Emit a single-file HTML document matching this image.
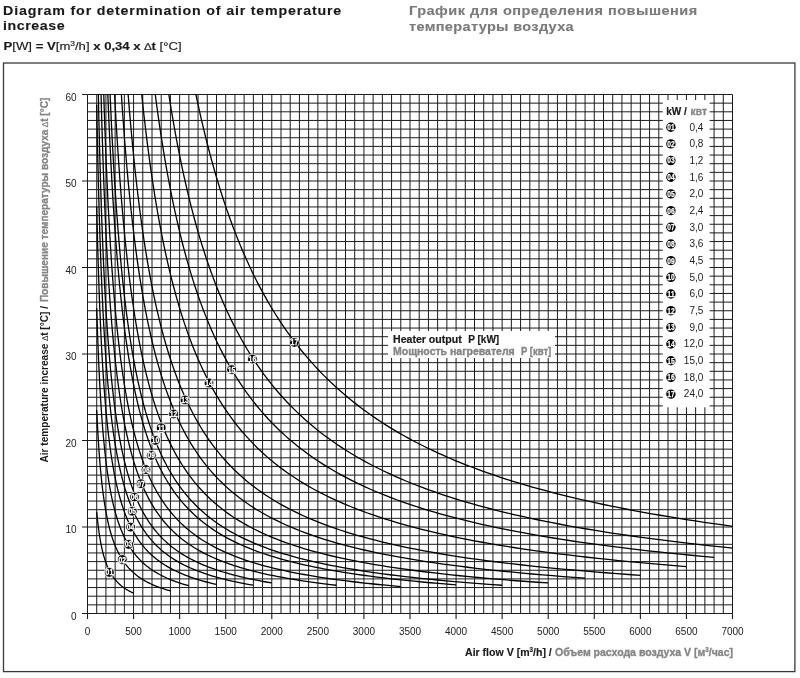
<!DOCTYPE html><html><head><meta charset="utf-8"><style>html,body{margin:0;padding:0;background:#fff;width:800px;height:678px;overflow:hidden}svg{display:block;will-change:transform}text{font-family:"Liberation Sans",sans-serif}</style></head><body>
<svg width="800" height="678" viewBox="0 0 800 678">
<rect width="800" height="678" fill="#fff"/>
<text transform="scale(1.13 1)" x="2.74" y="14.6" font-size="12.6" font-weight="bold" fill="#1a1a1a" stroke="#1a1a1a" stroke-width="0.12" textLength="299.29" lengthAdjust="spacing">Diagram for determination of air temperature</text>
<text transform="scale(1.13 1)" x="2.74" y="30.4" font-size="12.6" font-weight="bold" fill="#1a1a1a" stroke="#1a1a1a" stroke-width="0.12" textLength="54.51" lengthAdjust="spacing">increase</text>
<text transform="scale(1.1 1)" x="371.82" y="14.8" font-size="13.2" font-weight="bold" fill="#7a7a7a" stroke="#7a7a7a" stroke-width="0.12" textLength="262" lengthAdjust="spacing">График для определения повышения</text>
<text transform="scale(1.1 1)" x="371.82" y="30.6" font-size="13.2" font-weight="bold" fill="#7a7a7a" stroke="#7a7a7a" stroke-width="0.12" textLength="149.73" lengthAdjust="spacing">температуры воздуха</text>
<text x="3.6" y="49.6" font-size="11" fill="#1a1a1a" stroke="#1a1a1a" stroke-width="0.15" textLength="178" lengthAdjust="spacingAndGlyphs"><tspan font-weight="bold">P</tspan>[W] <tspan font-weight="bold">= V</tspan>[m<tspan font-size="7" dy="-4">3</tspan><tspan dy="4">/h] </tspan><tspan font-weight="bold">x 0,34 x </tspan><tspan font-size="10">∆</tspan><tspan font-weight="bold">t</tspan> [°C]</text>
<rect x="3.5" y="63" width="791.4" height="608.6" fill="none" stroke="#3a3a3a" stroke-width="1.3"/>
<path d="M87.5 94.5V613.5M96.71 94.5V613.5M105.93 94.5V613.5M115.14 94.5V613.5M124.36 94.5V613.5M133.57 94.5V613.5M142.79 94.5V613.5M152 94.5V613.5M161.21 94.5V613.5M170.43 94.5V613.5M179.64 94.5V613.5M188.86 94.5V613.5M198.07 94.5V613.5M207.29 94.5V613.5M216.5 94.5V613.5M225.71 94.5V613.5M234.93 94.5V613.5M244.14 94.5V613.5M253.36 94.5V613.5M262.57 94.5V613.5M271.79 94.5V613.5M281 94.5V613.5M290.21 94.5V613.5M299.43 94.5V613.5M308.64 94.5V613.5M317.86 94.5V613.5M327.07 94.5V613.5M336.29 94.5V613.5M345.5 94.5V613.5M354.71 94.5V613.5M363.93 94.5V613.5M373.14 94.5V613.5M382.36 94.5V613.5M391.57 94.5V613.5M400.79 94.5V613.5M410 94.5V613.5M419.21 94.5V613.5M428.43 94.5V613.5M437.64 94.5V613.5M446.86 94.5V613.5M456.07 94.5V613.5M465.29 94.5V613.5M474.5 94.5V613.5M483.71 94.5V613.5M492.93 94.5V613.5M502.14 94.5V613.5M511.36 94.5V613.5M520.57 94.5V613.5M529.79 94.5V613.5M539 94.5V613.5M548.21 94.5V613.5M557.43 94.5V613.5M566.64 94.5V613.5M575.86 94.5V613.5M585.07 94.5V613.5M594.29 94.5V613.5M603.5 94.5V613.5M612.71 94.5V613.5M621.93 94.5V613.5M631.14 94.5V613.5M640.36 94.5V613.5M649.57 94.5V613.5M658.79 94.5V613.5M668 94.5V613.5M677.21 94.5V613.5M686.43 94.5V613.5M695.64 94.5V613.5M704.86 94.5V613.5M714.07 94.5V613.5M723.29 94.5V613.5M732.5 94.5V613.5M87.5 613.5H732.5M87.5 604.85H732.5M87.5 596.2H732.5M87.5 587.55H732.5M87.5 578.9H732.5M87.5 570.25H732.5M87.5 561.6H732.5M87.5 552.95H732.5M87.5 544.3H732.5M87.5 535.65H732.5M87.5 527H732.5M87.5 518.35H732.5M87.5 509.7H732.5M87.5 501.05H732.5M87.5 492.4H732.5M87.5 483.75H732.5M87.5 475.1H732.5M87.5 466.45H732.5M87.5 457.8H732.5M87.5 449.15H732.5M87.5 440.5H732.5M87.5 431.85H732.5M87.5 423.2H732.5M87.5 414.55H732.5M87.5 405.9H732.5M87.5 397.25H732.5M87.5 388.6H732.5M87.5 379.95H732.5M87.5 371.3H732.5M87.5 362.65H732.5M87.5 354H732.5M87.5 345.35H732.5M87.5 336.7H732.5M87.5 328.05H732.5M87.5 319.4H732.5M87.5 310.75H732.5M87.5 302.1H732.5M87.5 293.45H732.5M87.5 284.8H732.5M87.5 276.15H732.5M87.5 267.5H732.5M87.5 258.85H732.5M87.5 250.2H732.5M87.5 241.55H732.5M87.5 232.9H732.5M87.5 224.25H732.5M87.5 215.6H732.5M87.5 206.95H732.5M87.5 198.3H732.5M87.5 189.65H732.5M87.5 181H732.5M87.5 172.35H732.5M87.5 163.7H732.5M87.5 155.05H732.5M87.5 146.4H732.5M87.5 137.75H732.5M87.5 129.1H732.5M87.5 120.45H732.5M87.5 111.8H732.5M87.5 103.15H732.5M87.5 94.5H732.5" stroke="#1e1a1a" stroke-width="1" fill="none"/>
<path d="M82 613.5H87.5M82 527H87.5M82 440.5H87.5M82 354H87.5M82 267.5H87.5M82 181H87.5M82 94.5H87.5M87.5 613.5V619M133.57 613.5V619M179.64 613.5V619M225.71 613.5V619M271.79 613.5V619M317.86 613.5V619M363.93 613.5V619M410 613.5V619M456.07 613.5V619M502.14 613.5V619M548.21 613.5V619M594.29 613.5V619M640.36 613.5V619M686.43 613.5V619M732.5 613.5V619" stroke="#1e1a1a" stroke-width="1.1" fill="none"/>
<text x="76.5" y="619.5" font-size="10" fill="#222" text-anchor="end">0</text>
<text x="76.5" y="533" font-size="10" fill="#222" text-anchor="end">10</text>
<text x="76.5" y="446.5" font-size="10" fill="#222" text-anchor="end">20</text>
<text x="76.5" y="360" font-size="10" fill="#222" text-anchor="end">30</text>
<text x="76.5" y="273.5" font-size="10" fill="#222" text-anchor="end">40</text>
<text x="76.5" y="187" font-size="10" fill="#222" text-anchor="end">50</text>
<text x="76.5" y="100.5" font-size="10" fill="#222" text-anchor="end">60</text>
<text x="87.5" y="635" font-size="10" fill="#222" text-anchor="middle">0</text>
<text x="133.57" y="635" font-size="10" fill="#222" text-anchor="middle">500</text>
<text x="179.64" y="635" font-size="10" fill="#222" text-anchor="middle">1000</text>
<text x="225.71" y="635" font-size="10" fill="#222" text-anchor="middle">1500</text>
<text x="271.79" y="635" font-size="10" fill="#222" text-anchor="middle">2000</text>
<text x="317.86" y="635" font-size="10" fill="#222" text-anchor="middle">2500</text>
<text x="363.93" y="635" font-size="10" fill="#222" text-anchor="middle">3000</text>
<text x="410" y="635" font-size="10" fill="#222" text-anchor="middle">3500</text>
<text x="456.07" y="635" font-size="10" fill="#222" text-anchor="middle">4000</text>
<text x="502.14" y="635" font-size="10" fill="#222" text-anchor="middle">4500</text>
<text x="548.21" y="635" font-size="10" fill="#222" text-anchor="middle">5000</text>
<text x="594.29" y="635" font-size="10" fill="#222" text-anchor="middle">5500</text>
<text x="640.36" y="635" font-size="10" fill="#222" text-anchor="middle">6000</text>
<text x="686.43" y="635" font-size="10" fill="#222" text-anchor="middle">6500</text>
<text x="732.5" y="635" font-size="10" fill="#222" text-anchor="middle">7000</text>
<path d="M96.71 511.74L96.84 513.09L96.96 514.43L97.09 515.75L97.22 517.05L97.35 518.34L97.49 519.6L97.62 520.85L97.76 522.09L97.9 523.31L98.04 524.51L98.18 525.69L98.32 526.86L98.47 528.02L98.62 529.16L98.77 530.28L98.92 531.39L99.07 532.48L99.23 533.56L99.39 534.63L99.55 535.68L99.71 536.71L99.88 537.74L100.04 538.75L100.21 539.74L100.38 540.73L100.56 541.7L100.74 542.65L100.91 543.6L101.1 544.53L101.28 545.45L101.46 546.35L101.65 547.25L101.84 548.13L102.04 549L102.23 549.86L102.43 550.71L102.63 551.54L102.84 552.37L103.05 553.18L103.26 553.99L103.47 554.78L103.68 555.56L103.9 556.33L104.12 557.1L104.35 557.85L104.58 558.59L104.81 559.32L105.04 560.04L105.28 560.75L105.52 561.46L105.76 562.15L106.01 562.83L106.26 563.51L106.51 564.18L106.77 564.83L107.03 565.48L107.29 566.12L107.56 566.75L107.83 567.37L108.1 567.99L108.38 568.6L108.66 569.19L108.95 569.78L109.24 570.37L109.53 570.94L109.83 571.51L110.13 572.07L110.44 572.62L110.75 573.16L111.06 573.7L111.38 574.23L111.7 574.76L112.03 575.27L112.36 575.78L112.7 576.28L113.04 576.78L113.38 577.27L113.73 577.75L114.08 578.23L114.44 578.7L114.81 579.16L115.18 579.62L115.55 580.07L115.93 580.51L116.31 580.95L116.7 581.39L117.09 581.82L117.49 582.24L117.9 582.65L118.31 583.07L118.73 583.47L119.15 583.87L119.57 584.27L120.01 584.65L120.45 585.04L120.89 585.42L121.34 585.79L121.8 586.16L122.26 586.53L122.73 586.89L123.21 587.24L123.69 587.59L124.18 587.93L124.67 588.28L125.18 588.61L125.68 588.94L126.2 589.27L126.72 589.59L127.25 589.91L127.79 590.23L128.33 590.54L128.88 590.84L129.44 591.14L130.01 591.44L130.58 591.74L131.16 592.03L131.75 592.31L132.35 592.59L132.96 592.87L133.57 593.15M96.71 409.97L96.88 413.66L97.06 417.29L97.23 420.85L97.41 424.34L97.6 427.78L97.78 431.15L97.97 434.45L98.17 437.7L98.37 440.89L98.57 444.02L98.77 447.1L98.98 450.12L99.19 453.08L99.41 455.99L99.63 458.85L99.85 461.66L100.08 464.41L100.31 467.12L100.55 469.77L100.79 472.38L101.03 474.94L101.28 477.45L101.54 479.92L101.8 482.35L102.06 484.73L102.33 487.06L102.61 489.36L102.89 491.61L103.17 493.82L103.46 495.99L103.75 498.12L104.05 500.22L104.36 502.27L104.67 504.29L104.99 506.27L105.31 508.22L105.64 510.13L105.98 512L106.32 513.85L106.67 515.65L107.02 517.43L107.38 519.17L107.75 520.88L108.12 522.56L108.5 524.21L108.89 525.83L109.29 527.42L109.69 528.99L110.1 530.52L110.52 532.02L110.94 533.5L111.38 534.95L111.82 536.38L112.27 537.78L112.72 539.15L113.19 540.5L113.67 541.83L114.15 543.13L114.64 544.4L115.14 545.66L115.65 546.89L116.17 548.1L116.7 549.28L117.24 550.45L117.79 551.59L118.35 552.72L118.92 553.82L119.5 554.9L120.1 555.96L120.7 557.01L121.31 558.03L121.94 559.04L122.57 560.03L123.22 561L123.88 561.95L124.55 562.89L125.24 563.8L125.93 564.71L126.64 565.59L127.37 566.46L128.1 567.31L128.85 568.15L129.62 568.97L130.4 569.78L131.19 570.58L132 571.35L132.82 572.12L133.66 572.87L134.51 573.61L135.38 574.33L136.26 575.04L137.16 575.74L138.08 576.42L139.02 577.1L139.97 577.76L140.94 578.41L141.93 579.04L142.93 579.67L143.96 580.28L145 580.88L146.06 581.48L147.14 582.06L148.25 582.63L149.37 583.19L150.51 583.74L151.68 584.28L152.86 584.81L154.07 585.33L155.3 585.84L156.55 586.34L157.83 586.83L159.13 587.32L160.45 587.79L161.8 588.26L163.17 588.72L164.57 589.17L166 589.61L167.45 590.04L168.92 590.47L170.43 590.89M96.71 308.21L96.9 314.25L97.09 320.17L97.28 325.97L97.48 331.66L97.68 337.23L97.89 342.7L98.1 348.06L98.31 353.31L98.53 358.46L98.75 363.5L98.98 368.45L99.21 373.3L99.45 378.05L99.69 382.71L99.93 387.27L100.19 391.75L100.44 396.14L100.7 400.44L100.97 404.65L101.24 408.78L101.52 412.83L101.8 416.8L102.09 420.7L102.38 424.51L102.69 428.25L102.99 431.91L103.3 435.51L103.62 439.03L103.95 442.48L104.28 445.86L104.62 449.18L104.96 452.43L105.32 455.62L105.68 458.74L106.04 461.8L106.42 464.8L106.8 467.75L107.19 470.63L107.59 473.46L107.99 476.23L108.41 478.94L108.83 481.6L109.26 484.21L109.7 486.77L110.15 489.28L110.6 491.74L111.07 494.15L111.54 496.51L112.03 498.82L112.53 501.09L113.03 503.31L113.55 505.49L114.07 507.63L114.61 509.73L115.15 511.78L115.71 513.79L116.28 515.76L116.86 517.7L117.46 519.59L118.06 521.45L118.68 523.27L119.31 525.06L119.95 526.81L120.6 528.52L121.27 530.2L121.95 531.85L122.65 533.47L123.36 535.05L124.08 536.6L124.82 538.12L125.57 539.61L126.34 541.08L127.13 542.51L127.93 543.91L128.74 545.29L129.57 546.64L130.42 547.96L131.29 549.26L132.17 550.53L133.07 551.78L133.99 553L134.93 554.19L135.89 555.37L136.87 556.52L137.86 557.64L138.88 558.75L139.92 559.83L140.97 560.89L142.05 561.94L143.16 562.96L144.28 563.96L145.42 564.94L146.59 565.9L147.79 566.84L149 567.76L150.24 568.67L151.51 569.55L152.8 570.42L154.12 571.28L155.47 572.11L156.84 572.93L158.24 573.73L159.66 574.52L161.12 575.29L162.61 576.05L164.12 576.79L165.67 577.51L167.25 578.23L168.86 578.92L170.5 579.61L172.17 580.28L173.88 580.93L175.63 581.58L177.41 582.21L179.22 582.83L181.07 583.44L182.96 584.03L184.89 584.61L186.85 585.19L188.86 585.75M96.71 206.44L96.92 215.3L97.13 223.96L97.34 232.43L97.56 240.72L97.79 248.83L98.01 256.76L98.25 264.52L98.49 272.11L98.73 279.54L98.98 286.8L99.24 293.91L99.5 300.86L99.76 307.66L100.04 314.31L100.32 320.82L100.6 327.19L100.89 333.42L101.19 339.51L101.49 345.47L101.8 351.3L102.12 357L102.45 362.58L102.78 368.04L103.12 373.38L103.47 378.6L103.82 383.71L104.19 388.71L104.56 393.6L104.94 398.38L105.32 403.06L105.72 407.64L106.12 412.12L106.54 416.5L106.96 420.78L107.4 424.97L107.84 429.08L108.29 433.09L108.75 437.01L109.22 440.85L109.71 444.61L110.2 448.28L110.71 451.87L111.22 455.39L111.75 458.83L112.29 462.19L112.84 465.48L113.4 468.7L113.98 471.85L114.57 474.93L115.17 477.95L115.79 480.9L116.41 483.78L117.06 486.6L117.71 489.36L118.39 492.06L119.07 494.71L119.78 497.29L120.49 499.82L121.23 502.29L121.98 504.71L122.74 507.08L123.53 509.39L124.33 511.65L125.15 513.87L125.98 516.04L126.84 518.16L127.71 520.23L128.61 522.26L129.52 524.24L130.46 526.19L131.41 528.09L132.39 529.94L133.39 531.76L134.41 533.54L135.45 535.28L136.52 536.98L137.61 538.64L138.72 540.27L139.86 541.87L141.02 543.42L142.21 544.95L143.43 546.44L144.67 547.9L145.95 549.32L147.25 550.72L148.57 552.09L149.93 553.42L151.32 554.73L152.74 556.01L154.19 557.26L155.67 558.48L157.19 559.68L158.74 560.85L160.32 561.99L161.94 563.11L163.6 564.21L165.29 565.28L167.02 566.33L168.79 567.36L170.59 568.36L172.44 569.34L174.33 570.3L176.26 571.24L178.23 572.16L180.25 573.06L182.31 573.94L184.42 574.8L186.58 575.64L188.78 576.47L191.03 577.27L193.34 578.06L195.69 578.83L198.09 579.59L200.55 580.32L203.07 581.04L205.64 581.75L208.26 582.44L210.95 583.12L213.69 583.78L216.5 584.42M96.71 104.68L96.94 116.79L97.17 128.61L97.4 140.15L97.65 151.41L97.89 162.41L98.15 173.14L98.41 183.62L98.67 193.85L98.94 203.84L99.22 213.59L99.51 223.11L99.8 232.4L100.1 241.47L100.41 250.32L100.72 258.97L101.05 267.4L101.38 275.64L101.72 283.68L102.06 291.53L102.42 299.19L102.78 306.67L103.15 313.97L103.53 321.1L103.93 328.06L104.33 334.85L104.74 341.49L105.16 347.96L105.59 354.28L106.03 360.45L106.48 366.47L106.94 372.35L107.42 378.09L107.9 383.69L108.4 389.16L108.91 394.5L109.43 399.71L109.96 404.8L110.51 409.77L111.07 414.61L111.65 419.35L112.24 423.97L112.84 428.48L113.46 432.88L114.09 437.18L114.74 441.38L115.4 445.47L116.08 449.47L116.78 453.38L117.49 457.19L118.22 460.91L118.97 464.54L119.74 468.08L120.53 471.54L121.33 474.92L122.16 478.22L123 481.44L123.87 484.58L124.75 487.65L125.66 490.65L126.59 493.57L127.55 496.42L128.52 499.21L129.52 501.93L130.55 504.58L131.6 507.18L132.67 509.71L133.77 512.18L134.9 514.59L136.06 516.94L137.24 519.24L138.45 521.48L139.69 523.67L140.97 525.81L142.27 527.9L143.61 529.94L144.97 531.92L146.37 533.87L147.81 535.76L149.28 537.61L150.79 539.42L152.33 541.18L153.91 542.9L155.53 544.58L157.19 546.22L158.89 547.82L160.63 549.39L162.41 550.91L164.24 552.4L166.11 553.86L168.02 555.27L169.99 556.66L172 558.01L174.06 559.33L176.17 560.62L178.33 561.88L180.54 563.11L182.81 564.31L185.13 565.48L187.51 566.62L189.95 567.74L192.45 568.83L195.01 569.89L197.63 570.93L200.31 571.94L203.06 572.93L205.88 573.9L208.77 574.84L211.72 575.76L214.75 576.66L217.86 577.53L221.03 578.39L224.29 579.22L227.62 580.04L231.04 580.84L234.54 581.61L238.12 582.37L241.8 583.11L245.56 583.84L249.41 584.54L253.36 585.23M98.34 94.5L98.6 106.61L98.86 118.44L99.14 129.99L99.41 141.27L99.7 152.29L99.99 163.05L100.29 173.56L100.59 183.83L100.91 193.85L101.23 203.65L101.56 213.21L101.89 222.55L102.23 231.67L102.59 240.58L102.95 249.28L103.32 257.78L103.69 266.08L104.08 274.19L104.48 282.1L104.88 289.84L105.3 297.39L105.72 304.77L106.16 311.97L106.6 319.01L107.06 325.88L107.53 332.59L108.01 339.14L108.5 345.54L109 351.8L109.51 357.9L110.04 363.87L110.58 369.69L111.13 375.38L111.69 380.94L112.27 386.36L112.86 391.66L113.47 396.84L114.09 401.9L114.72 406.83L115.37 411.66L116.04 416.36L116.72 420.96L117.42 425.46L118.13 429.85L118.87 434.13L119.62 438.32L120.38 442.4L121.17 446.4L121.97 450.29L122.8 454.1L123.64 457.82L124.5 461.45L125.39 465L126.29 468.47L127.22 471.85L128.17 475.16L129.14 478.38L130.13 481.54L131.15 484.62L132.2 487.62L133.26 490.56L134.36 493.43L135.48 496.23L136.62 498.97L137.8 501.64L139 504.25L140.23 506.8L141.49 509.29L142.78 511.72L144.1 514.1L145.45 516.42L146.84 518.68L148.25 520.89L149.7 523.05L151.19 525.16L152.71 527.23L154.27 529.24L155.87 531.2L157.5 533.12L159.17 535L160.88 536.83L162.64 538.62L164.43 540.37L166.27 542.07L168.15 543.74L170.08 545.37L172.05 546.96L174.07 548.51L176.14 550.03L178.26 551.51L180.43 552.96L182.65 554.37L184.92 555.75L187.25 557.1L189.63 558.41L192.07 559.7L194.57 560.95L197.12 562.18L199.74 563.38L202.43 564.55L205.17 565.69L207.98 566.8L210.86 567.89L213.81 568.96L216.83 570L219.92 571.01L223.08 572L226.32 572.97L229.63 573.92L233.03 574.84L236.51 575.74L240.07 576.62L243.71 577.48L247.44 578.32L251.27 579.15L255.18 579.95L259.18 580.73L263.29 581.49L267.49 582.24L271.79 582.97M101.05 94.5L101.38 106.94L101.72 119.07L102.07 130.92L102.43 142.48L102.8 153.77L103.17 164.78L103.56 175.53L103.95 186.03L104.36 196.27L104.77 206.27L105.19 216.02L105.63 225.55L106.07 234.84L106.53 243.91L107 252.77L107.47 261.41L107.96 269.85L108.47 278.08L108.98 286.12L109.51 293.96L110.05 301.62L110.6 309.09L111.17 316.38L111.75 323.5L112.35 330.45L112.96 337.23L113.58 343.85L114.22 350.31L114.88 356.62L115.55 362.77L116.24 368.78L116.94 374.64L117.67 380.37L118.41 385.95L119.17 391.41L119.94 396.73L120.74 401.92L121.55 406.99L122.39 411.94L123.25 416.77L124.12 421.48L125.02 426.08L125.95 430.57L126.89 434.96L127.86 439.23L128.85 443.41L129.86 447.48L130.9 451.46L131.97 455.34L133.06 459.13L134.18 462.83L135.32 466.44L136.5 469.97L137.7 473.4L138.93 476.76L140.19 480.04L141.49 483.23L142.81 486.36L144.17 489.4L145.56 492.38L146.99 495.28L148.45 498.11L149.94 500.88L151.48 503.57L153.05 506.21L154.66 508.78L156.3 511.29L157.99 513.74L159.72 516.13L161.5 518.46L163.31 520.74L165.17 522.96L167.08 525.13L169.03 527.25L171.04 529.31L173.09 531.33L175.19 533.3L177.34 535.22L179.55 537.1L181.8 538.93L184.12 540.71L186.49 542.46L188.92 544.16L191.41 545.82L193.96 547.44L196.58 549.02L199.25 550.57L202 552.08L204.81 553.55L207.69 554.99L210.64 556.39L213.66 557.76L216.76 559.09L219.93 560.4L223.18 561.67L226.51 562.91L229.92 564.12L233.42 565.3L237 566.46L240.67 567.59L244.43 568.69L248.28 569.76L252.23 570.81L256.28 571.83L260.42 572.83L264.66 573.8L269.01 574.76L273.47 575.68L278.03 576.59L282.71 577.47L287.5 578.34L292.41 579.18L297.44 580L302.6 580.8L307.88 581.59L313.29 582.35L318.83 583.1L324.51 583.83L330.32 584.54L336.29 585.23M103.76 94.5L104.17 107.14L104.58 119.47L105.01 131.5L105.45 143.24L105.89 154.69L106.35 165.86L106.82 176.76L107.31 187.4L107.8 197.77L108.31 207.9L108.83 217.78L109.36 227.41L109.9 236.81L110.46 245.99L111.04 254.94L111.62 263.67L112.23 272.19L112.84 280.5L113.48 288.61L114.12 296.52L114.79 304.24L115.47 311.77L116.17 319.12L116.88 326.29L117.62 333.28L118.37 340.1L119.14 346.76L119.93 353.26L120.74 359.59L121.57 365.78L122.42 371.81L123.29 377.7L124.18 383.44L125.1 389.04L126.04 394.51L127 399.84L127.98 405.04L128.99 410.12L130.03 415.07L131.09 419.9L132.18 424.62L133.29 429.22L134.44 433.7L135.61 438.08L136.81 442.35L138.04 446.52L139.3 450.59L140.6 454.56L141.92 458.43L143.28 462.2L144.67 465.89L146.1 469.48L147.56 472.99L149.06 476.41L150.6 479.75L152.17 483.01L153.79 486.18L155.44 489.28L157.14 492.31L158.87 495.26L160.66 498.14L162.48 500.95L164.35 503.69L166.27 506.36L168.24 508.97L170.25 511.52L172.32 514L174.43 516.42L176.6 518.79L178.83 521.09L181.11 523.34L183.44 525.54L185.84 527.68L188.29 529.77L190.81 531.81L193.39 533.8L196.03 535.74L198.74 537.63L201.52 539.48L204.36 541.28L207.28 543.04L210.27 544.76L213.33 546.43L216.47 548.07L219.69 549.66L222.99 551.21L226.37 552.73L229.84 554.21L233.39 555.65L237.03 557.06L240.77 558.44L244.59 559.78L248.51 561.09L252.53 562.36L256.65 563.61L260.87 564.82L265.2 566.01L269.63 567.17L274.18 568.29L278.84 569.39L283.62 570.47L288.51 571.52L293.53 572.54L298.67 573.54L303.94 574.51L309.34 575.46L314.88 576.39L320.56 577.29L326.37 578.17L332.33 579.03L338.45 579.87L344.71 580.69L351.13 581.49L357.71 582.27L364.45 583.03L371.37 583.77L378.45 584.49L385.71 585.2L393.16 585.89L400.79 586.56M107.83 94.5L108.32 106.88L108.83 118.97L109.35 130.77L109.89 142.29L110.43 153.53L110.99 164.5L111.57 175.22L112.16 185.67L112.76 195.88L113.38 205.84L114.01 215.57L114.66 225.06L115.32 234.33L116 243.38L116.7 252.21L117.41 260.83L118.14 269.24L118.89 277.46L119.66 285.47L120.45 293.3L121.25 300.94L122.08 308.4L122.92 315.68L123.79 322.78L124.67 329.72L125.58 336.49L126.51 343.1L127.47 349.55L128.44 355.85L129.44 361.99L130.47 367.99L131.52 373.85L132.59 379.57L133.7 385.15L134.83 390.6L135.98 395.92L137.17 401.11L138.38 406.18L139.63 411.12L140.9 415.95L142.2 420.66L143.54 425.27L144.91 429.76L146.31 434.14L147.75 438.42L149.22 442.6L150.73 446.67L152.28 450.65L153.86 454.54L155.48 458.33L157.15 462.03L158.85 465.65L160.59 469.18L162.38 472.62L164.21 475.98L166.08 479.26L168 482.46L169.97 485.59L171.99 488.64L174.05 491.62L176.17 494.53L178.34 497.37L180.56 500.14L182.83 502.84L185.16 505.48L187.55 508.06L189.99 510.58L192.5 513.03L195.06 515.43L197.69 517.77L200.39 520.05L203.15 522.28L205.97 524.46L208.87 526.58L211.83 528.66L214.87 530.68L217.99 532.66L221.18 534.59L224.44 536.47L227.79 538.31L231.22 540.1L234.73 541.85L238.33 543.56L242.02 545.23L245.79 546.86L249.66 548.45L253.63 550L257.69 551.52L261.85 552.99L266.11 554.44L270.47 555.85L274.95 557.22L279.53 558.57L284.22 559.88L289.03 561.16L293.96 562.4L299 563.62L304.17 564.81L309.47 565.97L314.89 567.11L320.45 568.22L326.14 569.3L331.98 570.35L337.95 571.38L344.07 572.39L350.34 573.37L356.77 574.32L363.35 575.26L370.09 576.17L377 577.06L384.08 577.93L391.32 578.78L398.75 579.61L406.36 580.42L414.15 581.21L422.14 581.98L430.31 582.73L438.69 583.46L447.28 584.18L456.07 584.88M110.08 94.5L110.64 106.94L111.21 119.07L111.79 130.92L112.38 142.48L113 153.77L113.62 164.78L114.26 175.53L114.92 186.03L115.59 196.27L116.28 206.27L116.99 216.02L117.71 225.55L118.45 234.84L119.21 243.91L119.99 252.77L120.79 261.41L121.61 269.85L122.44 278.08L123.3 286.12L124.18 293.96L125.08 301.62L126 309.09L126.95 316.38L127.92 323.5L128.91 330.45L129.93 337.23L130.97 343.85L132.04 350.31L133.13 356.62L134.25 362.77L135.4 368.78L136.57 374.64L137.78 380.37L139.01 385.95L140.28 391.41L141.57 396.73L142.9 401.92L144.26 406.99L145.65 411.94L147.08 416.77L148.54 421.48L150.04 426.08L151.58 430.57L153.15 434.96L154.76 439.23L156.41 443.41L158.1 447.48L159.84 451.46L161.61 455.34L163.43 459.13L165.29 462.83L167.2 466.44L169.16 469.97L171.17 473.4L173.22 476.76L175.32 480.04L177.48 483.23L179.69 486.36L181.95 489.4L184.27 492.38L186.64 495.28L189.08 498.11L191.57 500.88L194.13 503.57L196.74 506.21L199.43 508.78L202.17 511.29L204.99 513.74L207.87 516.13L210.83 518.46L213.86 520.74L216.96 522.96L220.13 525.13L223.39 527.25L226.73 529.31L230.14 531.33L233.65 533.3L237.23 535.22L240.91 537.1L244.67 538.93L248.53 540.71L252.49 542.46L256.54 544.16L260.69 545.82L264.94 547.44L269.29 549.02L273.76 550.57L278.33 552.08L283.01 553.55L287.81 554.99L292.73 556.39L297.77 557.76L302.93 559.09L308.22 560.4L313.63 561.67L319.19 562.91L324.87 564.12L330.7 565.3L336.67 566.46L342.79 567.59L349.05 568.69L355.47 569.76L362.05 570.81L368.79 571.83L375.7 572.83L382.77 573.8L390.02 574.76L397.45 575.68L405.06 576.59L412.85 577.47L420.84 578.34L429.02 579.18L437.4 580L445.99 580.8L454.79 581.59L463.81 582.35L473.05 583.1L482.51 583.83L492.21 584.54L502.14 585.23M114.6 94.5L115.25 106.61L115.91 118.44L116.59 129.99L117.29 141.27L118 152.29L118.73 163.05L119.47 173.56L120.24 183.83L121.02 193.85L121.82 203.65L122.64 213.21L123.48 222.55L124.34 231.67L125.22 240.58L126.12 249.28L127.04 257.78L127.99 266.08L128.95 274.19L129.94 282.1L130.96 289.84L132 297.39L133.06 304.77L134.15 311.97L135.26 319.01L136.4 325.88L137.57 332.59L138.77 339.14L139.99 345.54L141.25 351.8L142.53 357.9L143.84 363.87L145.19 369.69L146.57 375.38L147.98 380.94L149.42 386.36L150.9 391.66L152.42 396.84L153.97 401.9L155.56 406.83L157.18 411.66L158.85 416.36L160.55 420.96L162.3 425.46L164.09 429.85L165.92 434.13L167.79 438.32L169.71 442.4L171.67 446.4L173.68 450.29L175.74 454.1L177.85 457.82L180.01 461.45L182.22 465L184.48 468.47L186.8 471.85L189.17 475.16L191.6 478.38L194.09 481.54L196.63 484.62L199.24 487.62L201.91 490.56L204.64 493.43L207.44 496.23L210.31 498.97L213.24 501.64L216.24 504.25L219.32 506.8L222.47 509.29L225.69 511.72L229 514.1L232.38 516.42L235.84 518.68L239.38 520.89L243.01 523.05L246.73 525.16L250.53 527.23L254.42 529.24L258.41 531.2L262.5 533.12L266.68 535L270.96 536.83L275.34 538.62L279.83 540.37L284.42 542.07L289.13 543.74L293.95 545.37L298.88 546.96L303.93 548.51L309.1 550.03L314.39 551.51L319.81 552.96L325.36 554.37L331.05 555.75L336.86 557.1L342.82 558.41L348.92 559.7L355.17 560.95L361.56 562.18L368.11 563.38L374.81 564.55L381.68 565.69L388.71 566.8L395.9 567.89L403.27 568.96L410.81 570L418.54 571.01L426.45 572L434.55 572.97L442.84 573.92L451.33 574.84L460.02 575.74L468.92 576.62L478.03 577.48L487.36 578.32L496.91 579.15L506.7 579.95L516.71 580.73L526.96 581.49L537.46 582.24L548.21 582.97M121.38 94.5L122.14 105.99L122.93 117.23L123.73 128.22L124.55 138.96L125.39 149.47L126.25 159.75L127.12 169.79L128.02 179.62L128.94 189.23L129.88 198.62L130.84 207.81L131.82 216.79L132.82 225.58L133.85 234.17L134.9 242.57L135.97 250.78L137.07 258.81L138.19 266.66L139.34 274.34L140.51 281.85L141.71 289.2L142.94 296.38L144.2 303.4L145.48 310.27L146.79 316.98L148.14 323.55L149.51 329.97L150.91 336.25L152.35 342.39L153.82 348.39L155.32 354.26L156.86 360L158.43 365.61L160.03 371.1L161.67 376.47L163.35 381.72L165.07 386.85L166.83 391.87L168.63 396.78L170.46 401.58L172.34 406.27L174.26 410.86L176.23 415.34L178.24 419.73L180.29 424.02L182.39 428.22L184.54 432.32L186.74 436.33L188.99 440.26L191.28 444.09L193.63 447.84L196.04 451.51L198.49 455.1L201.01 458.61L203.58 462.04L206.21 465.39L208.89 468.67L211.64 471.88L214.45 475.01L217.33 478.08L220.27 481.08L223.28 484.01L226.35 486.88L229.49 489.68L232.71 492.42L236 495.1L239.36 497.73L242.8 500.29L246.32 502.8L249.91 505.25L253.59 507.64L257.35 509.99L261.2 512.28L265.13 514.52L269.15 516.71L273.27 518.86L277.47 520.95L281.78 523L286.17 525.01L290.67 526.96L295.27 528.88L299.98 530.75L304.79 532.59L309.71 534.38L314.74 536.13L319.89 537.84L325.15 539.52L330.53 541.16L336.04 542.76L341.66 544.33L347.42 545.86L353.31 547.36L359.32 548.82L365.48 550.25L371.77 551.65L378.21 553.02L384.79 554.36L391.53 555.67L398.41 556.95L405.45 558.2L412.65 559.43L420.01 560.63L427.54 561.8L435.24 562.94L443.12 564.06L451.17 565.16L459.41 566.23L467.83 567.27L476.44 568.3L485.25 569.3L494.26 570.28L503.47 571.23L512.89 572.17L522.52 573.08L532.37 573.98L542.44 574.85L552.74 575.71L563.28 576.55L574.05 577.36L585.07 578.17M128.15 94.5L129.05 105.67L129.96 116.59L130.89 127.28L131.85 137.75L132.82 147.98L133.82 158L134.84 167.8L135.88 177.39L136.94 186.77L138.03 195.95L139.14 204.94L140.27 213.73L141.44 222.33L142.62 230.74L143.83 238.98L145.07 247.04L146.34 254.92L147.63 262.64L148.95 270.19L150.31 277.57L151.69 284.8L153.1 291.87L154.54 298.79L156.01 305.56L157.52 312.19L159.06 318.67L160.63 325.02L162.24 331.22L163.89 337.3L165.57 343.24L167.28 349.05L169.04 354.74L170.83 360.31L172.66 365.76L174.53 371.09L176.45 376.3L178.4 381.41L180.4 386.4L182.45 391.29L184.53 396.07L186.67 400.75L188.85 405.32L191.08 409.8L193.35 414.19L195.68 418.48L198.06 422.67L200.49 426.78L202.98 430.79L205.51 434.73L208.11 438.57L210.76 442.34L213.47 446.02L216.24 449.62L219.07 453.15L221.97 456.6L224.92 459.97L227.94 463.28L231.03 466.51L234.19 469.67L237.41 472.77L240.71 475.79L244.08 478.76L247.52 481.66L251.04 484.49L254.64 487.27L258.31 489.98L262.07 492.64L265.91 495.24L269.83 497.79L273.84 500.28L277.94 502.71L282.12 505.1L286.4 507.43L290.78 509.71L295.25 511.94L299.82 514.13L304.48 516.27L309.26 518.36L314.13 520.41L319.11 522.41L324.21 524.37L329.41 526.29L334.73 528.16L340.17 530L345.72 531.8L351.4 533.55L357.21 535.27L363.14 536.96L369.2 538.6L375.39 540.22L381.72 541.79L388.19 543.33L394.8 544.84L401.56 546.32L408.47 547.77L415.52 549.18L422.74 550.57L430.11 551.92L437.64 553.24L445.34 554.54L453.21 555.81L461.25 557.05L469.47 558.27L477.87 559.45L486.45 560.62L495.22 561.75L504.19 562.87L513.35 563.96L522.72 565.02L532.29 566.07L542.07 567.09L552.06 568.09L562.28 569.06L572.72 570.02L583.39 570.95L594.29 571.87L605.43 572.77L616.82 573.64L628.46 574.5L640.36 575.34M141.7 94.5L142.8 104.79L143.92 114.87L145.06 124.75L146.22 134.44L147.41 143.94L148.62 153.24L149.86 162.37L151.12 171.31L152.4 180.07L153.72 188.66L155.05 197.09L156.42 205.34L157.81 213.43L159.24 221.36L160.69 229.13L162.17 236.75L163.68 244.22L165.22 251.54L166.79 258.71L168.39 265.74L170.03 272.64L171.7 279.39L173.4 286.02L175.14 292.51L176.91 298.87L178.72 305.11L180.56 311.22L182.44 317.21L184.36 323.08L186.32 328.84L188.32 334.48L190.36 340.01L192.44 345.43L194.56 350.75L196.73 355.95L198.93 361.06L201.19 366.06L203.49 370.97L205.83 375.78L208.23 380.49L210.67 385.11L213.16 389.63L215.7 394.07L218.29 398.42L220.94 402.68L223.63 406.86L226.39 410.96L229.2 414.97L232.06 418.91L234.98 422.76L237.97 426.54L241.01 430.25L244.11 433.88L247.28 437.44L250.51 440.93L253.81 444.35L257.17 447.71L260.6 450.99L264.1 454.21L267.67 457.37L271.32 460.46L275.04 463.5L278.83 466.47L282.7 469.39L286.64 472.24L290.67 475.04L294.78 477.79L298.97 480.48L303.25 483.11L307.61 485.7L312.06 488.23L316.6 490.71L321.24 493.15L325.96 495.53L330.78 497.87L335.7 500.16L340.72 502.41L345.84 504.61L351.07 506.77L356.4 508.89L361.84 510.96L367.38 512.99L373.04 514.98L378.82 516.94L384.71 518.85L390.72 520.73L396.85 522.57L403.11 524.37L409.49 526.13L416 527.87L422.64 529.56L429.42 531.23L436.33 532.86L443.39 534.46L450.58 536.02L457.93 537.56L465.42 539.06L473.06 540.54L480.86 541.99L488.81 543.4L496.93 544.79L505.21 546.15L513.65 547.49L522.27 548.8L531.06 550.08L540.03 551.34L549.18 552.57L558.52 553.78L568.04 554.96L577.76 556.12L587.68 557.26L597.79 558.37L608.11 559.47L618.64 560.54L629.38 561.59L640.34 562.62L651.52 563.62L662.92 564.61L674.56 565.58L686.43 566.53M155.25 94.5L156.52 104.03L157.81 113.39L159.13 122.57L160.47 131.59L161.83 140.44L163.22 149.13L164.64 157.66L166.08 166.03L167.55 174.25L169.05 182.32L170.58 190.23L172.13 198.01L173.71 205.64L175.33 213.13L176.97 220.48L178.64 227.7L180.35 234.79L182.09 241.74L183.86 248.57L185.66 255.27L187.5 261.85L189.37 268.31L191.27 274.65L193.21 280.87L195.19 286.98L197.21 292.98L199.26 298.87L201.35 304.64L203.48 310.32L205.65 315.88L207.86 321.35L210.11 326.72L212.41 331.98L214.74 337.15L217.12 342.23L219.55 347.21L222.02 352.1L224.54 356.9L227.1 361.62L229.71 366.24L232.37 370.78L235.08 375.24L237.85 379.62L240.66 383.91L243.52 388.13L246.44 392.27L249.42 396.33L252.45 400.32L255.53 404.23L258.68 408.08L261.88 411.85L265.14 415.55L268.46 419.19L271.85 422.76L275.3 426.26L278.81 429.7L282.39 433.08L286.04 436.39L289.75 439.64L293.54 442.84L297.39 445.97L301.32 449.05L305.32 452.07L309.4 455.03L313.55 457.94L317.78 460.8L322.08 463.6L326.47 466.36L330.94 469.06L335.5 471.71L340.14 474.32L344.87 476.87L349.68 479.38L354.59 481.84L359.58 484.26L364.67 486.64L369.86 488.97L375.14 491.25L380.52 493.5L386.01 495.7L391.59 497.87L397.28 499.99L403.08 502.07L408.98 504.12L415 506.13L421.12 508.1L427.37 510.04L433.72 511.94L440.2 513.8L446.8 515.63L453.52 517.43L460.37 519.2L467.35 520.93L474.45 522.63L481.69 524.3L489.07 525.94L496.58 527.54L504.24 529.12L512.03 530.67L519.98 532.19L528.07 533.69L536.31 535.15L544.71 536.59L553.26 538L561.98 539.39L570.85 540.75L579.9 542.09L589.11 543.4L598.49 544.69L608.05 545.95L617.79 547.19L627.72 548.41L637.82 549.6L648.12 550.78L658.61 551.93L669.29 553.06L680.18 554.17L691.27 555.26L702.56 556.33L714.07 557.38M168.8 94.5L170.22 103.38L171.66 112.11L173.12 120.69L174.61 129.12L176.13 137.41L177.67 145.56L179.24 153.56L180.84 161.43L182.46 169.17L184.12 176.77L185.8 184.24L187.51 191.59L189.25 198.81L191.02 205.9L192.83 212.88L194.66 219.73L196.53 226.47L198.42 233.09L200.35 239.6L202.32 246L204.32 252.29L206.35 258.47L208.42 264.54L210.53 270.51L212.67 276.38L214.85 282.15L217.06 287.82L219.32 293.39L221.61 298.87L223.95 304.25L226.32 309.55L228.74 314.75L231.2 319.86L233.7 324.88L236.25 329.82L238.84 334.68L241.47 339.45L244.15 344.14L246.88 348.74L249.65 353.28L252.47 357.73L255.35 362.1L258.27 366.41L261.24 370.63L264.27 374.79L267.34 378.87L270.47 382.89L273.66 386.83L276.9 390.71L280.2 394.53L283.55 398.27L286.97 401.95L290.44 405.57L293.97 409.13L297.57 412.63L301.22 416.07L304.94 419.44L308.73 422.76L312.58 426.03L316.5 429.24L320.48 432.39L324.54 435.49L328.67 438.53L332.87 441.53L337.14 444.47L341.48 447.36L345.9 450.21L350.4 453L354.98 455.75L359.64 458.45L364.37 461.1L369.19 463.71L374.1 466.27L379.09 468.79L384.16 471.26L389.33 473.7L394.58 476.09L399.93 478.44L405.37 480.75L410.9 483.02L416.53 485.26L422.26 487.45L428.09 489.61L434.02 491.73L440.05 493.81L446.19 495.86L452.43 497.87L458.78 499.85L465.25 501.8L471.82 503.71L478.51 505.59L485.32 507.43L492.25 509.25L499.29 511.03L506.46 512.78L513.75 514.51L521.17 516.2L528.72 517.87L536.41 519.5L544.22 521.11L552.17 522.69L560.26 524.25L568.49 525.77L576.86 527.27L585.38 528.75L594.05 530.2L602.87 531.62L611.84 533.03L620.97 534.4L630.26 535.76L639.71 537.09L649.32 538.39L659.1 539.68L669.05 540.94L679.17 542.18L689.47 543.4L699.95 544.6L710.62 545.78L721.46 546.94L732.5 548.08M195.9 94.5L197.53 102.16L199.17 109.7L200.85 117.13L202.54 124.45L204.27 131.67L206.01 138.78L207.79 145.78L209.59 152.68L211.42 159.48L213.27 166.17L215.16 172.77L217.07 179.27L219.01 185.68L220.98 191.99L222.97 198.21L225 204.34L227.06 210.37L229.15 216.32L231.27 222.18L233.42 227.95L235.61 233.64L237.83 239.24L240.08 244.76L242.36 250.2L244.68 255.56L247.03 260.84L249.42 266.04L251.85 271.17L254.31 276.22L256.81 281.19L259.34 286.1L261.91 290.93L264.53 295.68L267.18 300.37L269.87 304.99L272.6 309.54L275.37 314.03L278.18 318.44L281.04 322.8L283.93 327.09L286.87 331.31L289.86 335.47L292.89 339.57L295.96 343.62L299.09 347.6L302.25 351.52L305.47 355.38L308.73 359.19L312.05 362.94L315.41 366.64L318.82 370.28L322.28 373.87L325.8 377.4L329.37 380.89L332.99 384.32L336.66 387.7L340.39 391.03L344.18 394.31L348.02 397.55L351.92 400.73L355.88 403.87L359.9 406.96L363.98 410.01L368.12 413.01L372.32 415.97L376.59 418.88L380.91 421.75L385.31 424.58L389.77 427.37L394.29 430.11L398.89 432.82L403.55 435.48L408.28 438.11L413.08 440.7L417.96 443.25L422.91 445.76L427.93 448.23L433.02 450.67L438.2 453.07L443.45 455.44L448.78 457.77L454.19 460.07L459.68 462.33L465.25 464.56L470.91 466.76L476.65 468.92L482.47 471.06L488.39 473.16L494.39 475.23L500.48 477.27L506.66 479.28L512.94 481.26L519.31 483.21L525.78 485.13L532.34 487.02L539 488.89L545.76 490.73L552.62 492.54L559.58 494.32L566.65 496.08L573.83 497.81L581.11 499.52L588.5 501.2L596 502.86L603.61 504.49L611.34 506.1L619.18 507.68L627.14 509.24L635.22 510.78L643.43 512.3L651.75 513.79L660.2 515.26L668.77 516.71L677.48 518.14L686.31 519.54L695.27 520.93L704.37 522.3L713.61 523.64L722.99 524.97L732.5 526.27" stroke="#000" stroke-width="1.3" fill="none" stroke-linejoin="round"/>
<circle cx="109.4" cy="572.4" r="4.9" fill="#000" stroke="#fff" stroke-width="0.9"/>
<text x="109.4" y="575.4" font-size="8.4" font-weight="bold" fill="#fff" stroke="#fff" stroke-width="0.3" text-anchor="middle" textLength="7.6" lengthAdjust="spacingAndGlyphs">01</text>
<circle cx="122.3" cy="559.5" r="4.9" fill="#000" stroke="#fff" stroke-width="0.9"/>
<text x="122.3" y="562.5" font-size="8.4" font-weight="bold" fill="#fff" stroke="#fff" stroke-width="0.3" text-anchor="middle" textLength="7.6" lengthAdjust="spacingAndGlyphs">02</text>
<circle cx="128.6" cy="544.4" r="4.9" fill="#000" stroke="#fff" stroke-width="0.9"/>
<text x="128.6" y="547.4" font-size="8.4" font-weight="bold" fill="#fff" stroke="#fff" stroke-width="0.3" text-anchor="middle" textLength="7.6" lengthAdjust="spacingAndGlyphs">03</text>
<circle cx="130.6" cy="527.1" r="4.9" fill="#000" stroke="#fff" stroke-width="0.9"/>
<text x="130.6" y="530.1" font-size="8.4" font-weight="bold" fill="#fff" stroke="#fff" stroke-width="0.3" text-anchor="middle" textLength="7.6" lengthAdjust="spacingAndGlyphs">04</text>
<circle cx="132.3" cy="511.2" r="4.9" fill="#000" stroke="#fff" stroke-width="0.9"/>
<text x="132.3" y="514.2" font-size="8.4" font-weight="bold" fill="#fff" stroke="#fff" stroke-width="0.3" text-anchor="middle" textLength="7.6" lengthAdjust="spacingAndGlyphs">05</text>
<circle cx="134.5" cy="497" r="4.9" fill="#000" stroke="#fff" stroke-width="0.9"/>
<text x="134.5" y="500" font-size="8.4" font-weight="bold" fill="#fff" stroke="#fff" stroke-width="0.3" text-anchor="middle" textLength="7.6" lengthAdjust="spacingAndGlyphs">06</text>
<circle cx="141" cy="483.7" r="4.9" fill="#000" stroke="#fff" stroke-width="0.9"/>
<text x="141" y="486.7" font-size="8.4" font-weight="bold" fill="#fff" stroke="#fff" stroke-width="0.3" text-anchor="middle" textLength="7.6" lengthAdjust="spacingAndGlyphs">07</text>
<circle cx="146" cy="469.6" r="4.9" fill="#000" stroke="#fff" stroke-width="0.9"/>
<text x="146" y="472.6" font-size="8.4" font-weight="bold" fill="#fff" stroke="#fff" stroke-width="0.3" text-anchor="middle" textLength="7.6" lengthAdjust="spacingAndGlyphs">08</text>
<circle cx="151.3" cy="455.4" r="4.9" fill="#000" stroke="#fff" stroke-width="0.9"/>
<text x="151.3" y="458.4" font-size="8.4" font-weight="bold" fill="#fff" stroke="#fff" stroke-width="0.3" text-anchor="middle" textLength="7.6" lengthAdjust="spacingAndGlyphs">09</text>
<circle cx="155.4" cy="440.4" r="4.9" fill="#000" stroke="#fff" stroke-width="0.9"/>
<text x="155.4" y="443.4" font-size="8.4" font-weight="bold" fill="#fff" stroke="#fff" stroke-width="0.3" text-anchor="middle" textLength="7.6" lengthAdjust="spacingAndGlyphs">10</text>
<circle cx="161.2" cy="427.7" r="4.9" fill="#000" stroke="#fff" stroke-width="0.9"/>
<text x="161.2" y="430.7" font-size="8.4" font-weight="bold" fill="#fff" stroke="#fff" stroke-width="0.3" text-anchor="middle" textLength="7.6" lengthAdjust="spacingAndGlyphs">11</text>
<circle cx="173.6" cy="414" r="4.9" fill="#000" stroke="#fff" stroke-width="0.9"/>
<text x="173.6" y="417" font-size="8.4" font-weight="bold" fill="#fff" stroke="#fff" stroke-width="0.3" text-anchor="middle" textLength="7.6" lengthAdjust="spacingAndGlyphs">12</text>
<circle cx="185" cy="400" r="4.9" fill="#000" stroke="#fff" stroke-width="0.9"/>
<text x="185" y="403" font-size="8.4" font-weight="bold" fill="#fff" stroke="#fff" stroke-width="0.3" text-anchor="middle" textLength="7.6" lengthAdjust="spacingAndGlyphs">13</text>
<circle cx="209" cy="383" r="4.9" fill="#000" stroke="#fff" stroke-width="0.9"/>
<text x="209" y="386" font-size="8.4" font-weight="bold" fill="#fff" stroke="#fff" stroke-width="0.3" text-anchor="middle" textLength="7.6" lengthAdjust="spacingAndGlyphs">14</text>
<circle cx="231.6" cy="369.6" r="4.9" fill="#000" stroke="#fff" stroke-width="0.9"/>
<text x="231.6" y="372.6" font-size="8.4" font-weight="bold" fill="#fff" stroke="#fff" stroke-width="0.3" text-anchor="middle" textLength="7.6" lengthAdjust="spacingAndGlyphs">15</text>
<circle cx="252.4" cy="359" r="4.9" fill="#000" stroke="#fff" stroke-width="0.9"/>
<text x="252.4" y="362" font-size="8.4" font-weight="bold" fill="#fff" stroke="#fff" stroke-width="0.3" text-anchor="middle" textLength="7.6" lengthAdjust="spacingAndGlyphs">16</text>
<circle cx="294.4" cy="342.4" r="4.9" fill="#000" stroke="#fff" stroke-width="0.9"/>
<text x="294.4" y="345.4" font-size="8.4" font-weight="bold" fill="#fff" stroke="#fff" stroke-width="0.3" text-anchor="middle" textLength="7.6" lengthAdjust="spacingAndGlyphs">17</text>
<rect x="388" y="331" width="167" height="27" fill="#fff"/>
<text x="393" y="342.7" font-size="10" font-weight="bold" fill="#1a1a1a" textLength="68.7" lengthAdjust="spacingAndGlyphs" stroke="#1a1a1a" stroke-width="0.2">Heater output</text>
<text x="468.2" y="342.7" font-size="10" font-weight="bold" fill="#1a1a1a" textLength="31" lengthAdjust="spacingAndGlyphs" stroke="#1a1a1a" stroke-width="0.2">P [kW]</text>
<text x="393" y="354.7" font-size="10" font-weight="bold" fill="#858585" textLength="121.7" lengthAdjust="spacingAndGlyphs" stroke="#858585" stroke-width="0.35">Мощность нагревателя</text>
<text x="521" y="354.7" font-size="10" font-weight="bold" fill="#858585" textLength="30.2" lengthAdjust="spacingAndGlyphs" stroke="#858585" stroke-width="0.35">P [квт]</text>
<rect x="662.8" y="100" width="46.8" height="307.3" fill="#fff"/>
<text x="666.2" y="114.7" font-size="10" font-weight="bold" fill="#1a1a1a" stroke="#1a1a1a" stroke-width="0.2">kW /</text><text x="690.6" y="114.7" font-size="10" font-weight="bold" fill="#858585" stroke="#858585" stroke-width="0.3" textLength="16.3" lengthAdjust="spacingAndGlyphs">квт</text>
<circle cx="670.9" cy="127.2" r="4.7" fill="#000"/>
<text x="670.9" y="130.1" font-size="8.2" font-weight="bold" fill="#fff" stroke="#fff" stroke-width="0.25" text-anchor="middle" textLength="7.4" lengthAdjust="spacingAndGlyphs">01</text>
<text x="703.3" y="130.5" font-size="10" fill="#222" text-anchor="end">0,4</text>
<circle cx="670.9" cy="143.88" r="4.7" fill="#000"/>
<text x="670.9" y="146.78" font-size="8.2" font-weight="bold" fill="#fff" stroke="#fff" stroke-width="0.25" text-anchor="middle" textLength="7.4" lengthAdjust="spacingAndGlyphs">02</text>
<text x="703.3" y="147.18" font-size="10" fill="#222" text-anchor="end">0,8</text>
<circle cx="670.9" cy="160.56" r="4.7" fill="#000"/>
<text x="670.9" y="163.46" font-size="8.2" font-weight="bold" fill="#fff" stroke="#fff" stroke-width="0.25" text-anchor="middle" textLength="7.4" lengthAdjust="spacingAndGlyphs">03</text>
<text x="703.3" y="163.86" font-size="10" fill="#222" text-anchor="end">1,2</text>
<circle cx="670.9" cy="177.24" r="4.7" fill="#000"/>
<text x="670.9" y="180.14" font-size="8.2" font-weight="bold" fill="#fff" stroke="#fff" stroke-width="0.25" text-anchor="middle" textLength="7.4" lengthAdjust="spacingAndGlyphs">04</text>
<text x="703.3" y="180.54" font-size="10" fill="#222" text-anchor="end">1,6</text>
<circle cx="670.9" cy="193.92" r="4.7" fill="#000"/>
<text x="670.9" y="196.82" font-size="8.2" font-weight="bold" fill="#fff" stroke="#fff" stroke-width="0.25" text-anchor="middle" textLength="7.4" lengthAdjust="spacingAndGlyphs">05</text>
<text x="703.3" y="197.22" font-size="10" fill="#222" text-anchor="end">2,0</text>
<circle cx="670.9" cy="210.6" r="4.7" fill="#000"/>
<text x="670.9" y="213.5" font-size="8.2" font-weight="bold" fill="#fff" stroke="#fff" stroke-width="0.25" text-anchor="middle" textLength="7.4" lengthAdjust="spacingAndGlyphs">06</text>
<text x="703.3" y="213.9" font-size="10" fill="#222" text-anchor="end">2,4</text>
<circle cx="670.9" cy="227.28" r="4.7" fill="#000"/>
<text x="670.9" y="230.18" font-size="8.2" font-weight="bold" fill="#fff" stroke="#fff" stroke-width="0.25" text-anchor="middle" textLength="7.4" lengthAdjust="spacingAndGlyphs">07</text>
<text x="703.3" y="230.58" font-size="10" fill="#222" text-anchor="end">3,0</text>
<circle cx="670.9" cy="243.96" r="4.7" fill="#000"/>
<text x="670.9" y="246.86" font-size="8.2" font-weight="bold" fill="#fff" stroke="#fff" stroke-width="0.25" text-anchor="middle" textLength="7.4" lengthAdjust="spacingAndGlyphs">08</text>
<text x="703.3" y="247.26" font-size="10" fill="#222" text-anchor="end">3,6</text>
<circle cx="670.9" cy="260.64" r="4.7" fill="#000"/>
<text x="670.9" y="263.54" font-size="8.2" font-weight="bold" fill="#fff" stroke="#fff" stroke-width="0.25" text-anchor="middle" textLength="7.4" lengthAdjust="spacingAndGlyphs">09</text>
<text x="703.3" y="263.94" font-size="10" fill="#222" text-anchor="end">4,5</text>
<circle cx="670.9" cy="277.32" r="4.7" fill="#000"/>
<text x="670.9" y="280.22" font-size="8.2" font-weight="bold" fill="#fff" stroke="#fff" stroke-width="0.25" text-anchor="middle" textLength="7.4" lengthAdjust="spacingAndGlyphs">10</text>
<text x="703.3" y="280.62" font-size="10" fill="#222" text-anchor="end">5,0</text>
<circle cx="670.9" cy="294" r="4.7" fill="#000"/>
<text x="670.9" y="296.9" font-size="8.2" font-weight="bold" fill="#fff" stroke="#fff" stroke-width="0.25" text-anchor="middle" textLength="7.4" lengthAdjust="spacingAndGlyphs">11</text>
<text x="703.3" y="297.3" font-size="10" fill="#222" text-anchor="end">6,0</text>
<circle cx="670.9" cy="310.68" r="4.7" fill="#000"/>
<text x="670.9" y="313.58" font-size="8.2" font-weight="bold" fill="#fff" stroke="#fff" stroke-width="0.25" text-anchor="middle" textLength="7.4" lengthAdjust="spacingAndGlyphs">12</text>
<text x="703.3" y="313.98" font-size="10" fill="#222" text-anchor="end">7,5</text>
<circle cx="670.9" cy="327.36" r="4.7" fill="#000"/>
<text x="670.9" y="330.26" font-size="8.2" font-weight="bold" fill="#fff" stroke="#fff" stroke-width="0.25" text-anchor="middle" textLength="7.4" lengthAdjust="spacingAndGlyphs">13</text>
<text x="703.3" y="330.66" font-size="10" fill="#222" text-anchor="end">9,0</text>
<circle cx="670.9" cy="344.04" r="4.7" fill="#000"/>
<text x="670.9" y="346.94" font-size="8.2" font-weight="bold" fill="#fff" stroke="#fff" stroke-width="0.25" text-anchor="middle" textLength="7.4" lengthAdjust="spacingAndGlyphs">14</text>
<text x="703.3" y="347.34" font-size="10" fill="#222" text-anchor="end">12,0</text>
<circle cx="670.9" cy="360.72" r="4.7" fill="#000"/>
<text x="670.9" y="363.62" font-size="8.2" font-weight="bold" fill="#fff" stroke="#fff" stroke-width="0.25" text-anchor="middle" textLength="7.4" lengthAdjust="spacingAndGlyphs">15</text>
<text x="703.3" y="364.02" font-size="10" fill="#222" text-anchor="end">15,0</text>
<circle cx="670.9" cy="377.4" r="4.7" fill="#000"/>
<text x="670.9" y="380.3" font-size="8.2" font-weight="bold" fill="#fff" stroke="#fff" stroke-width="0.25" text-anchor="middle" textLength="7.4" lengthAdjust="spacingAndGlyphs">16</text>
<text x="703.3" y="380.7" font-size="10" fill="#222" text-anchor="end">18,0</text>
<circle cx="670.9" cy="394.08" r="4.7" fill="#000"/>
<text x="670.9" y="396.98" font-size="8.2" font-weight="bold" fill="#fff" stroke="#fff" stroke-width="0.25" text-anchor="middle" textLength="7.4" lengthAdjust="spacingAndGlyphs">17</text>
<text x="703.3" y="397.38" font-size="10" fill="#222" text-anchor="end">24,0</text>
<text x="465" y="655.6" font-size="11" font-weight="bold" fill="#1a1a1a" stroke="#1a1a1a" stroke-width="0.15" textLength="86.8" lengthAdjust="spacingAndGlyphs">Air flow V [m<tspan font-size="6.5" dy="-3.8">3</tspan><tspan dy="3.8">/h] /</tspan></text>
<text x="555" y="655.6" font-size="11" font-weight="bold" fill="#858585" stroke="#858585" stroke-width="0.35" textLength="178" lengthAdjust="spacingAndGlyphs">Объем расхода воздуха V [м<tspan font-size="6.5" dy="-3.8">3</tspan><tspan dy="3.8">/час]</tspan></text>
<g transform="translate(47.8 462.5) rotate(-90)"><text x="0" y="0" font-size="10.5" font-weight="bold" fill="#1a1a1a" textLength="156.5" lengthAdjust="spacingAndGlyphs">Air temperature increase <tspan font-weight="normal" font-size="8.5">∆</tspan>t [°C] /</text><text x="160.4" y="0" font-size="10.3" font-weight="bold" fill="#858585" stroke="#858585" stroke-width="0.3" textLength="204.4" lengthAdjust="spacingAndGlyphs">Повышение температуры воздуха <tspan font-weight="normal" font-size="8.5">∆</tspan>t [°C]</text></g>
</svg></body></html>
